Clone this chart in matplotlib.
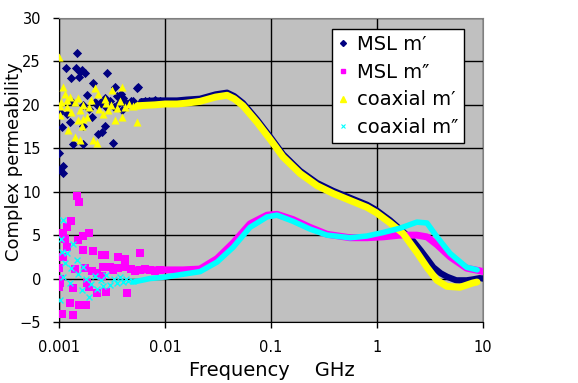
import numpy as np
import matplotlib
matplotlib.use("Agg")
import matplotlib.pyplot as plt
from matplotlib.lines import Line2D

navy = "#000080"
magenta = "#FF00FF"
yellow = "#FFFF00"
cyan = "#00FFFF"
plot_gray = "#C0C0C0"

# ---- data (frequency in GHz, permeability) ----
# scattered low frequency points
msl_re_f = [0.00149, 0.00116, 0.00130, 0.00145, 0.00158, 0.00166, 0.00176, 0.00155, 0.00282, 0.00208,
            0.0056, 0.0055, 0.00337, 0.00182, 0.00272, 0.00350, 0.00382, 0.00405, 0.00235, 0.00102,
            0.00127, 0.00204, 0.00170, 0.00272, 0.00235, 0.00253, 0.00106, 0.00136, 0.00167, 0.00320,
            0.00101, 0.00110, 0.00102, 0.00108, 0.0013, 0.0017, 0.0019, 0.0012, 0.0022, 0.0025,
            0.0030, 0.0033, 0.0037, 0.0040, 0.0045, 0.0048, 0.0050, 0.0060, 0.0065, 0.0070,
            0.0080, 0.0090, 0.00275, 0.0039]
msl_re_v = [26.0, 24.3, 23.1, 24.2, 23.8, 24.0, 23.7, 23.2, 23.7, 22.5,
            22.1, 21.9, 22.0, 21.1, 20.8, 21.0, 21.3, 20.8, 19.9, 19.2,
            18.0, 18.6, 17.6, 17.6, 16.7, 16.9, 17.4, 15.5, 15.5, 15.6,
            14.5, 13.0, 12.5, 12.2, 20.5, 20.0, 19.5, 19.0, 20.3, 20.3,
            20.5, 19.8, 20.2, 20.6, 20.1, 20.5, 20.4, 20.3, 20.4, 20.5,
            20.6, 20.5, 19.7, 19.4]

msl_im_f = [0.00147, 0.00155, 0.00129, 0.00118, 0.00110, 0.00114, 0.00170, 0.00193, 0.00152, 0.00118,
            0.00110, 0.00170, 0.00210, 0.00253, 0.00272, 0.00360, 0.00420, 0.00580, 0.00100, 0.00141,
            0.00176, 0.00204, 0.00260, 0.00300, 0.00320, 0.00360, 0.00420, 0.00227, 0.00253, 0.00102,
            0.00100, 0.00136, 0.00182, 0.00190, 0.00227, 0.00280, 0.00440, 0.00127, 0.00155, 0.00180,
            0.00106, 0.00136, 0.00102, 0.00102, 0.00102, 0.0048, 0.0052, 0.0058, 0.0065, 0.0072,
            0.0080, 0.0090]
msl_im_v = [9.5, 8.8, 6.6, 5.9, 5.2, 4.5, 4.9, 5.3, 4.4, 3.6,
            2.5, 3.3, 3.2, 2.7, 2.7, 2.5, 2.2, 3.0, 1.2, 1.05,
            1.2, 0.86, 1.35, 1.3, 0.98, 1.2, 1.3, 0.6, 0.3, -0.2,
            -1.0, -1.1, -0.55, -0.95, -1.7, -1.5, -1.7, -2.85, -3.05, -3.0,
            -4.1, -4.2, 2.5, 0.0, -0.55, 1.1, 0.9, 1.0, 1.1, 1.0,
            0.9, 1.0]

coax_re_f = [0.00100, 0.00110, 0.00114, 0.00127, 0.00102, 0.00102, 0.00118, 0.00141, 0.00158, 0.00152,
             0.00170, 0.00122, 0.00141, 0.00158, 0.00211, 0.00227, 0.00164, 0.00182, 0.00219, 0.00235,
             0.00314, 0.00390, 0.00272, 0.00290, 0.00337, 0.00390, 0.00540, 0.00105, 0.0012, 0.0013,
             0.0015, 0.0017, 0.0019, 0.0020, 0.0024, 0.0026, 0.0028, 0.0031, 0.0035, 0.0038,
             0.0042, 0.0046, 0.0050, 0.0055]
coax_re_v = [25.5, 22.0, 21.3, 20.9, 19.9, 18.8, 19.7, 20.3, 19.4, 18.2,
             18.4, 17.1, 16.3, 15.9, 15.9, 15.6, 17.6, 18.6, 21.9, 21.3,
             21.7, 22.0, 20.7, 19.4, 18.2, 18.6, 18.0, 20.3, 20.6, 19.2,
             20.8, 20.0, 19.8, 20.6, 19.5, 18.9, 20.2, 20.0, 19.6, 20.4,
             19.8, 20.1, 19.9, 20.0]

coax_im_f = [0.00110, 0.00106, 0.00136, 0.00114, 0.00147, 0.00170, 0.00110, 0.00127, 0.00164, 0.00193,
             0.00102, 0.00230, 0.00260, 0.00300, 0.00350, 0.00400, 0.00450, 0.00500, 0.00105, 0.0012,
             0.0013, 0.0015, 0.0018, 0.0020, 0.0022, 0.0025, 0.0028, 0.0033, 0.0038, 0.0043]
coax_im_v = [6.7, 3.1, 4.0, 1.75, 2.1, 1.35, 0.2, -0.55, -1.3, -2.1,
             -2.5, -1.2, -0.9, -0.7, -0.5, -0.4, -0.3, -0.3, 4.5, 3.0,
             1.2, 0.5, 0.0, -0.6, 0.3, -0.2, 0.4, 0.0, 0.2, -0.1]

# smooth part above a few MHz
msl_re_sf = [0.006, 0.008, 0.01, 0.013, 0.016, 0.0214, 0.03, 0.0385, 0.045, 0.0544, 0.0738, 0.1, 0.13,
             0.188, 0.272, 0.385, 0.556, 0.805, 0.98, 1.33, 1.76, 2.2, 2.6, 3.0, 3.4, 4.0, 4.6, 5.6,
             7.0, 8.0, 9.3, 10.0]
msl_re_sv = [20.4, 20.5, 20.5, 20.5, 20.6, 20.7, 21.2, 21.4, 21.0, 20.2, 18.3, 16.2, 14.3,
             12.4, 11.0, 10.1, 9.3, 8.5, 7.9, 6.7, 5.4, 4.3, 3.2, 2.2, 1.3, 0.6, 0.2, -0.2,
             -0.2, -0.1, 0.05, 0.0]

msl_im_sf = [0.005, 0.0072, 0.0104, 0.0148, 0.0214, 0.031, 0.0439, 0.0634, 0.0917, 0.114, 0.161, 0.233,
             0.338, 0.556, 0.805, 1.14, 1.65, 2.38, 2.96, 3.68, 4.89, 7.0, 9.3, 10.0]
msl_im_sv = [1.0, 1.0, 1.0, 1.0, 1.1, 2.3, 4.1, 6.3, 7.3, 7.4, 6.8, 5.9,
             5.1, 4.7, 4.7, 4.8, 5.0, 5.0, 4.8, 3.9, 2.5, 1.2, 0.9, 0.8]

coax_re_sf = [0.0055, 0.008, 0.01, 0.013, 0.016, 0.0214, 0.03, 0.0385, 0.045, 0.0544, 0.0738, 0.1, 0.13,
              0.188, 0.272, 0.385, 0.556, 0.805, 0.98, 1.33, 1.76, 2.38, 2.96, 3.68, 4.57, 6.07,
              8.05, 8.8]
coax_re_sv = [19.9, 20.0, 20.1, 20.1, 20.2, 20.4, 20.9, 21.1, 20.7, 19.9, 18.0, 15.9, 14.0,
              12.1, 10.7, 9.8, 9.0, 8.2, 7.6, 6.4, 5.2, 3.0, 1.3, -0.2, -0.9, -1.0,
              -0.5, -0.4]

coax_im_sf = [0.005, 0.0072, 0.0104, 0.0148, 0.0214, 0.031, 0.0439, 0.0634, 0.0917, 0.114, 0.161, 0.233,
              0.338, 0.556, 0.805, 1.14, 1.65, 2.38, 2.96, 3.68, 4.89, 7.0, 8.8]
coax_im_sv = [-0.4, 0.0, 0.2, 0.5, 0.8, 1.9, 3.6, 5.9, 7.1, 7.3, 6.6, 5.7,
              5.0, 4.7, 4.9, 5.3, 5.8, 6.5, 6.4, 4.8, 2.9, 1.3, 1.0]

labels = ["MSL m\u2032", "MSL m\u2033", "coaxial m\u2032", "coaxial m\u2033"]
x_ticks = [0.001, 0.01, 0.1, 1, 10]
x_ticklabels = ["0.001", "0.01", "0.1", "1", "10"]
y_ticks = [-5, 0, 5, 10, 15, 20, 25, 30]

fig = plt.figure(figsize=(5.78, 3.83), dpi=100)
ax = fig.add_axes([59 / 578, 1 - 322 / 383, 424 / 578, 304 / 383])
ax.set_facecolor(plot_gray)

# series in excel order, later ones on top
ax.scatter(msl_re_f, msl_re_v, marker="D", s=22, color=navy, linewidths=0, zorder=3)
ax.plot(msl_re_sf, msl_re_sv, color=navy, lw=4.5, solid_capstyle="round", zorder=3)
ax.scatter(msl_im_f, msl_im_v, marker="s", s=26, color=magenta, linewidths=0, zorder=4)
ax.plot(msl_im_sf, msl_im_sv, color=magenta, lw=5, solid_capstyle="round", zorder=4)
ax.scatter(coax_re_f, coax_re_v, marker="^", s=34, color=yellow, linewidths=0, zorder=5)
ax.plot(coax_re_sf, coax_re_sv, color=yellow, lw=5, solid_capstyle="round", zorder=5)
ax.scatter(coax_im_f, coax_im_v, marker="x", s=18, color=cyan, linewidths=1, zorder=6)
ax.plot(coax_im_sf, coax_im_sv, color=cyan, lw=4, solid_capstyle="round", zorder=6)

ax.set_xscale("log")
ax.set_xlim(0.001, 10)
ax.set_ylim(-5, 30)
ax.set_xticks(x_ticks)
ax.set_xticklabels(x_ticklabels)
ax.set_yticks(y_ticks)
ax.xaxis.set_minor_locator(matplotlib.ticker.NullLocator())
ax.tick_params(axis="both", direction="out", length=4, width=1, labelsize=10.5, colors="black")
ax.tick_params(axis="x", pad=9)
ax.tick_params(axis="y", pad=9)
ax.grid(True, color="black", lw=1)
ax.set_axisbelow(True)
for side in ["top", "right"]:
    ax.spines[side].set_color("#808080")
for side in ["left", "bottom"]:
    ax.spines[side].set_color("black")

fig.text(272 / 578, 1 - 370 / 383, "Frequency    GHz", fontsize=14, ha="center", va="center")
fig.text(14 / 578, 1 - 162 / 383, "Complex permeability", fontsize=13, rotation=90,
         ha="center", va="center")

# small legend keys like the excel chart
handles = [Line2D([], [], ls="none", marker="D", ms=3, color=navy),
           Line2D([], [], ls="none", marker="s", ms=3.5, color=magenta),
           Line2D([], [], ls="none", marker="^", ms=4, color=yellow),
           Line2D([], [], ls="none", marker="x", ms=3.5, mew=0.8, color=cyan)]
leg = fig.legend(handles, labels, loc="upper left",
                 bbox_to_anchor=(332 / 578, 1 - 29 / 383), fontsize=14, frameon=True,
                 fancybox=False, edgecolor="black", framealpha=1, borderpad=0.3,
                 labelspacing=0.45, handlelength=0.5, handletextpad=0.5,
                 borderaxespad=0)
leg.get_frame().set_linewidth(1)

plt.savefig("out.png", dpi=100)
